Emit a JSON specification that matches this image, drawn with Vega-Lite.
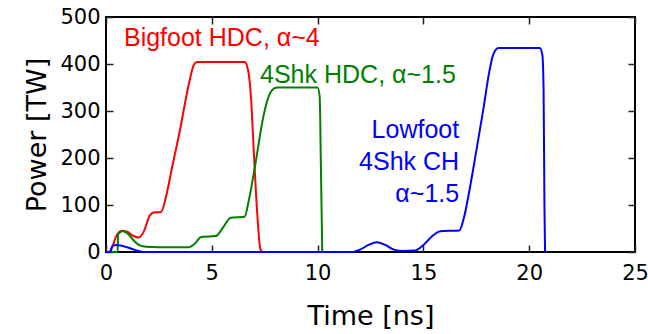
{
  "$schema": "https://vega.github.io/schema/vega-lite/v6.json",
  "width": 529,
  "height": 235,
  "autosize": {"type": "none"},
  "padding": {"left": 106, "top": 17, "right": 13, "bottom": 82},
  "background": "white",
  "config": {
    "view": {"stroke": "black", "strokeWidth": 2},
    "axis": {
      "grid": false,
      "domain": false,
      "tickSize": -7,
      "tickWidth": 1.5,
      "tickColor": "#222222",
      "labelFont": "DejaVu Sans",
      "labelFontSize": 21,
      "labelColor": "black",
      "titleFont": "DejaVu Sans",
      "titleFontSize": 27,
      "titleFontWeight": "normal",
      "titleColor": "black"
    }
  },
  "datasets": {
    "curves": [
      {"series": "Bigfoot", "t": 0, "p": 0},
      {"series": "Bigfoot", "t": 0.15, "p": 0},
      {"series": "Bigfoot", "t": 0.3, "p": 12},
      {"series": "Bigfoot", "t": 0.5, "p": 35},
      {"series": "Bigfoot", "t": 0.75, "p": 45},
      {"series": "Bigfoot", "t": 1.0, "p": 43},
      {"series": "Bigfoot", "t": 1.3, "p": 34},
      {"series": "Bigfoot", "t": 1.55, "p": 31},
      {"series": "Bigfoot", "t": 1.8, "p": 45},
      {"series": "Bigfoot", "t": 2.05, "p": 76},
      {"series": "Bigfoot", "t": 2.25, "p": 84},
      {"series": "Bigfoot", "t": 2.6, "p": 85},
      {"series": "Bigfoot", "t": 2.85, "p": 120},
      {"series": "Bigfoot", "t": 3.1, "p": 175},
      {"series": "Bigfoot", "t": 3.5, "p": 260},
      {"series": "Bigfoot", "t": 3.89, "p": 352},
      {"series": "Bigfoot", "t": 4.15, "p": 398},
      {"series": "Bigfoot", "t": 4.3, "p": 404},
      {"series": "Bigfoot", "t": 6.55, "p": 404},
      {"series": "Bigfoot", "t": 6.7, "p": 390},
      {"series": "Bigfoot", "t": 6.85, "p": 330},
      {"series": "Bigfoot", "t": 7.0, "p": 200},
      {"series": "Bigfoot", "t": 7.15, "p": 80},
      {"series": "Bigfoot", "t": 7.3, "p": 5},
      {"series": "Bigfoot", "t": 7.4, "p": 0},
      {"series": "4Shk", "t": 0, "p": 0},
      {"series": "4Shk", "t": 0.55, "p": 0},
      {"series": "4Shk", "t": 0.57, "p": 38},
      {"series": "4Shk", "t": 0.8, "p": 44},
      {"series": "4Shk", "t": 1.0, "p": 40},
      {"series": "4Shk", "t": 1.3, "p": 25},
      {"series": "4Shk", "t": 1.6, "p": 14},
      {"series": "4Shk", "t": 1.9, "p": 11},
      {"series": "4Shk", "t": 2.5, "p": 10},
      {"series": "4Shk", "t": 3.9, "p": 10},
      {"series": "4Shk", "t": 4.2, "p": 18},
      {"series": "4Shk", "t": 4.5, "p": 32},
      {"series": "4Shk", "t": 5.2, "p": 34},
      {"series": "4Shk", "t": 5.5, "p": 50},
      {"series": "4Shk", "t": 5.9, "p": 73},
      {"series": "4Shk", "t": 6.55, "p": 75},
      {"series": "4Shk", "t": 6.75, "p": 110},
      {"series": "4Shk", "t": 7.04, "p": 182},
      {"series": "4Shk", "t": 7.44, "p": 289},
      {"series": "4Shk", "t": 7.7, "p": 332},
      {"series": "4Shk", "t": 7.95, "p": 348},
      {"series": "4Shk", "t": 8.1, "p": 350},
      {"series": "4Shk", "t": 10.0, "p": 350},
      {"series": "4Shk", "t": 10.1, "p": 330},
      {"series": "4Shk", "t": 10.15, "p": 200},
      {"series": "4Shk", "t": 10.22, "p": 0},
      {"series": "Lowfoot", "t": 0, "p": 0},
      {"series": "Lowfoot", "t": 0.2, "p": 0},
      {"series": "Lowfoot", "t": 0.3, "p": 12},
      {"series": "Lowfoot", "t": 0.45, "p": 15},
      {"series": "Lowfoot", "t": 0.7, "p": 14},
      {"series": "Lowfoot", "t": 1.0, "p": 10},
      {"series": "Lowfoot", "t": 1.4, "p": 4},
      {"series": "Lowfoot", "t": 1.8, "p": 0},
      {"series": "Lowfoot", "t": 11.6, "p": 0},
      {"series": "Lowfoot", "t": 12.0, "p": 5},
      {"series": "Lowfoot", "t": 12.4, "p": 15},
      {"series": "Lowfoot", "t": 12.8, "p": 21},
      {"series": "Lowfoot", "t": 13.2, "p": 15},
      {"series": "Lowfoot", "t": 13.6, "p": 5},
      {"series": "Lowfoot", "t": 14.0, "p": 2},
      {"series": "Lowfoot", "t": 14.6, "p": 3},
      {"series": "Lowfoot", "t": 15.0, "p": 15},
      {"series": "Lowfoot", "t": 15.4, "p": 33},
      {"series": "Lowfoot", "t": 15.8, "p": 44},
      {"series": "Lowfoot", "t": 16.7, "p": 46},
      {"series": "Lowfoot", "t": 16.9, "p": 70},
      {"series": "Lowfoot", "t": 17.15, "p": 125},
      {"series": "Lowfoot", "t": 17.5, "p": 215},
      {"series": "Lowfoot", "t": 17.83, "p": 303},
      {"series": "Lowfoot", "t": 18.1, "p": 380},
      {"series": "Lowfoot", "t": 18.3, "p": 420},
      {"series": "Lowfoot", "t": 18.55, "p": 434},
      {"series": "Lowfoot", "t": 20.5, "p": 434},
      {"series": "Lowfoot", "t": 20.62, "p": 420},
      {"series": "Lowfoot", "t": 20.68, "p": 345},
      {"series": "Lowfoot", "t": 20.72, "p": 100},
      {"series": "Lowfoot", "t": 20.75, "p": 0}
    ],
    "labels": [
      {"series": "Bigfoot", "label": "Bigfoot HDC, α~4", "t": 0.85, "p": 438, "side": "left"},
      {"series": "4Shk", "label": "4Shk HDC, α~1.5", "t": 7.28, "p": 360, "side": "left"},
      {"series": "Lowfoot", "label": "Lowfoot", "t": 16.69, "p": 243, "side": "right"},
      {"series": "Lowfoot", "label": "4Shk CH", "t": 16.69, "p": 175, "side": "right"},
      {"series": "Lowfoot", "label": "α~1.5", "t": 16.69, "p": 107, "side": "right"}
    ]
  },
  "resolve": {"axis": {"x": "independent", "y": "independent"}},
  "layer": [
    {
      "data": {"name": "curves"},
      "mark": {"type": "point", "opacity": 0},
      "encoding": {
        "x": {"field": "t", "type": "quantitative", "scale": {"domain": [0, 25], "nice": false},
              "axis": {"orient": "top", "labels": false, "title": null, "values": [0, 5, 10, 15, 20, 25]}},
        "y": {"field": "p", "type": "quantitative", "scale": {"domain": [0, 500], "nice": false},
              "axis": {"orient": "right", "labels": false, "title": null, "values": [0, 100, 200, 300, 400, 500]}}
      }
    },
    {
      "data": {"name": "curves"},
      "mark": {"type": "line", "interpolate": "monotone", "strokeWidth": 2},
      "encoding": {
        "x": {"field": "t", "type": "quantitative",
              "axis": {"orient": "bottom", "values": [0, 5, 10, 15, 20, 25], "title": "Time [ns]", "labelPadding": 17, "titlePadding": 20, "labelFlush": false}},
        "y": {"field": "p", "type": "quantitative",
              "axis": {"orient": "left", "values": [0, 100, 200, 300, 400, 500], "title": "Power [TW]", "labelPadding": 13, "titlePadding": 8, "labelFlush": false}},
        "color": {"field": "series", "type": "nominal",
                  "scale": {"domain": ["Bigfoot", "4Shk", "Lowfoot"], "range": ["#ff0000", "#008000", "#0000ff"]},
                  "legend": null}
      }
    },
    {
      "data": {"name": "labels"},
      "transform": [{"filter": "datum.side === 'left'"}],
      "mark": {"type": "text", "align": "left", "baseline": "alphabetic", "font": "Liberation Sans", "fontSize": 25},
      "encoding": {
        "x": {"field": "t", "type": "quantitative", "axis": null},
        "y": {"field": "p", "type": "quantitative", "axis": null},
        "text": {"field": "label"},
        "color": {"field": "series", "type": "nominal", "legend": null}
      }
    },
    {
      "data": {"name": "labels"},
      "transform": [{"filter": "datum.side === 'right'"}],
      "mark": {"type": "text", "align": "right", "baseline": "alphabetic", "font": "Liberation Sans", "fontSize": 25},
      "encoding": {
        "x": {"field": "t", "type": "quantitative", "axis": null},
        "y": {"field": "p", "type": "quantitative", "axis": null},
        "text": {"field": "label"},
        "color": {"field": "series", "type": "nominal", "legend": null}
      }
    }
  ]
}
